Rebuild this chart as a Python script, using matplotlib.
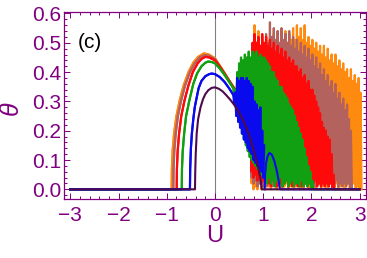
import numpy as np
import matplotlib
matplotlib.use("Agg")
import matplotlib.pyplot as plt
from matplotlib.ticker import MultipleLocator

plt.rcParams['font.family'] = ['Liberation Sans', 'DejaVu Sans']

# ---------------- data ----------------
# smooth parts: (U, theta)
purple_U = [-3.0, -0.415, -0.41, -0.40, -0.38, -0.35, -0.30, -0.25, -0.20, -0.14, -0.07, 0.0,
            0.08, 0.16, 0.24, 0.32, 0.40, 0.50, 0.60, 0.70, 0.80, 0.88, 0.94, 0.97, 3.0]
purple_T = [0.0, 0.0, 0.06, 0.12, 0.19, 0.24, 0.28, 0.307, 0.325, 0.338, 0.346, 0.348,
            0.343, 0.334, 0.32, 0.305, 0.288, 0.262, 0.23, 0.19, 0.135, 0.085, 0.04, 0.0, 0.0]

blue_U = [-3.0, -0.52, -0.515, -0.50, -0.48, -0.45, -0.42, -0.39, -0.34, -0.28, -0.20, -0.12,
          -0.07, 0.0, 0.1, 0.2, 0.3, 0.38]
blue_T = [0.0, 0.0, 0.07, 0.14, 0.19, 0.24, 0.28, 0.305, 0.345, 0.37, 0.386, 0.393,
          0.395, 0.393, 0.383, 0.366, 0.343, 0.322]
blue_arc_U = [1.03, 1.04, 1.06, 1.09, 1.13, 1.18, 1.23, 1.28, 1.32, 1.35, 3.0]
blue_arc_T = [0.0, 0.05, 0.09, 0.113, 0.124, 0.118, 0.097, 0.065, 0.03, 0.0, 0.0]

green_U = [-3.0, -0.69, -0.685, -0.67, -0.64, -0.60, -0.53, -0.45, -0.37, -0.28, -0.20, -0.14,
           -0.06, 0.0, 0.1, 0.2, 0.3, 0.38]
green_T = [0.0, 0.0, 0.07, 0.13, 0.19, 0.25, 0.305, 0.36, 0.396, 0.42, 0.432, 0.436,
           0.434, 0.43, 0.412, 0.39, 0.365, 0.345]

red_U = [-3.0, -0.795, -0.79, -0.775, -0.745, -0.70, -0.63, -0.55, -0.46, -0.36, -0.28, -0.20,
         -0.12, 0.0, 0.1, 0.2, 0.3, 0.4, 0.5, 0.6, 0.68]
red_T = [0.0, 0.0, 0.07, 0.13, 0.19, 0.25, 0.305, 0.355, 0.40, 0.43, 0.445, 0.452,
         0.45, 0.44, 0.418, 0.393, 0.368, 0.343, 0.32, 0.30, 0.285]

brown_U = [-3.0, -0.865, -0.86, -0.845, -0.815, -0.77, -0.70, -0.62, -0.52, -0.42, -0.32, -0.22,
           -0.12, 0.0, 0.1, 0.2, 0.3, 0.4, 0.5, 0.6, 0.68]
brown_T = [0.0, 0.0, 0.07, 0.13, 0.19, 0.25, 0.305, 0.355, 0.40, 0.43, 0.45, 0.458,
           0.455, 0.444, 0.42, 0.395, 0.369, 0.344, 0.32, 0.30, 0.285]

orange_U = [-3.0, -0.90, -0.895, -0.88, -0.85, -0.80, -0.73, -0.65, -0.55, -0.45, -0.35, -0.23,
            -0.13, 0.0, 0.1, 0.2, 0.3, 0.4, 0.5, 0.6, 0.68]
orange_T = [0.0, 0.0, 0.07, 0.13, 0.19, 0.25, 0.305, 0.355, 0.40, 0.432, 0.452, 0.464,
            0.46, 0.447, 0.422, 0.397, 0.37, 0.345, 0.32, 0.30, 0.285]

# oscillating parts: successive maxima / minima, every 0.04 in U
osc_step = 0.04
blue_osc_start = 0.40
blue_top = [0.33, 0.38, 0.37, 0.38, 0.38, 0.37, 0.38, 0.37, 0.36, 0.35, 0.30, 0.29, 0.27, 0.28, 0.20, 0.15]
blue_bot = [0.29, 0.25, 0.23, 0.21, 0.19, 0.17, 0.16, 0.14, 0.13, 0.12, 0.10, 0.09, 0.08, 0.07, 0.06, 0.04]

green_osc_start = 0.40
green_top = [0.34, 0.40, 0.43, 0.45, 0.44, 0.46, 0.45, 0.47, 0.45, 0.47,
             0.46, 0.47, 0.45, 0.46, 0.45, 0.45, 0.44, 0.43, 0.42, 0.40,
             0.40, 0.38, 0.37, 0.35, 0.35, 0.33, 0.32, 0.31, 0.29, 0.28,
             0.27, 0.25, 0.23, 0.21, 0.19, 0.17, 0.14, 0.11, 0.08, 0.06, 0.03]
green_bot = [0.30, 0.27, 0.24, 0.22, 0.19, 0.17, 0.15, 0.13, 0.11, 0.10,
             0.09, 0.08, 0.07, 0.06, 0.05, 0.04, 0.03, 0.02, 0.04, 0.02,
             0.03, 0.01, 0.03, 0.02, 0.04, 0.01, 0.02, 0.03, 0.01, 0.02,
             0.03, 0.01, 0.02, 0.02, 0.01, 0.03, 0.01, 0.02, 0.01, 0.02, 0.00]

red_osc_start = 0.72
red_top = [0.40, 0.50, 0.53, 0.50, 0.52, 0.49, 0.53, 0.50, 0.52, 0.49,
           0.51, 0.48, 0.50, 0.47, 0.49, 0.46, 0.48, 0.45, 0.47, 0.44,
           0.45, 0.43, 0.44, 0.42, 0.42, 0.40, 0.41, 0.38, 0.39, 0.36,
           0.37, 0.34, 0.34, 0.32, 0.30, 0.28, 0.26, 0.23, 0.21, 0.20,
           0.18, 0.17, 0.12, 0.05]
red_bot = [0.28, 0.06, 0.04, 0.05, 0.03, 0.04, 0.02, 0.03, 0.02, 0.04,
           0.02, 0.01, 0.03, 0.02, 0.01, 0.03, 0.02, 0.01, 0.02, 0.03,
           0.01, 0.02, 0.01, 0.03, 0.02, 0.01, 0.02, 0.01, 0.03, 0.02,
           0.01, 0.02, 0.01, 0.02, 0.03, 0.01, 0.02, 0.01, 0.02, 0.01,
           0.02, 0.01, 0.02, 0.00]

brown_osc_start = 0.72
brown_top = [0.35, 0.42, 0.46, 0.44, 0.48, 0.45, 0.49, 0.47, 0.53, 0.50,
             0.57, 0.52, 0.55, 0.51, 0.54, 0.50, 0.55, 0.51, 0.53, 0.50,
             0.54, 0.49, 0.52, 0.48, 0.51, 0.47, 0.50, 0.46, 0.49, 0.45,
             0.48, 0.44, 0.46, 0.42, 0.45, 0.41, 0.43, 0.39, 0.41, 0.37,
             0.39, 0.35, 0.37, 0.33, 0.36, 0.31, 0.33, 0.29, 0.31, 0.27,
             0.29, 0.24, 0.20]
brown_bot = [0.27, 0.04, 0.02, 0.03, 0.01, 0.02, 0.03, 0.01, 0.02, 0.01,
             0.03, 0.02, 0.01, 0.02, 0.03, 0.01, 0.02, 0.01, 0.02, 0.03,
             0.01, 0.02, 0.01, 0.03, 0.02, 0.01, 0.02, 0.01, 0.02, 0.03,
             0.01, 0.02, 0.01, 0.02, 0.01, 0.03, 0.02, 0.01, 0.02, 0.01,
             0.03, 0.01, 0.02, 0.01, 0.02, 0.03, 0.01, 0.02, 0.01, 0.02,
             0.01, 0.02, 0.00]

orange_osc_start = 0.72
orange_top = [0.35, 0.50, 0.56, 0.50, 0.54, 0.49, 0.52, 0.47, 0.51, 0.48,
              0.52, 0.49, 0.53, 0.50, 0.54, 0.49, 0.53, 0.50, 0.54, 0.50,
              0.53, 0.51, 0.55, 0.51, 0.56, 0.52, 0.55, 0.51, 0.56, 0.50,
              0.52, 0.49, 0.51, 0.48, 0.50, 0.47, 0.49, 0.46, 0.49, 0.45,
              0.48, 0.44, 0.46, 0.43, 0.46, 0.42, 0.44, 0.41, 0.43, 0.40,
              0.41, 0.38, 0.41, 0.37, 0.39, 0.36, 0.38, 0.33]
orange_bot = [0.27, 0.02, 0.00, 0.01, 0.00, 0.02, 0.00, 0.01, 0.00, 0.02,
              0.01, 0.00, 0.02, 0.01, 0.00, 0.02, 0.01, 0.00, 0.01, 0.02,
              0.00, 0.01, 0.02, 0.00, 0.01, 0.02, 0.00, 0.01, 0.00, 0.02,
              0.01, 0.00, 0.02, 0.01, 0.00, 0.01, 0.02, 0.00, 0.01, 0.02,
              0.00, 0.01, 0.02, 0.00, 0.01, 0.02, 0.00, 0.01, 0.02, 0.00,
              0.01, 0.02, 0.00, 0.01, 0.02, 0.00, 0.01, 0.00]

x_ticks = [-3, -2, -1, 0, 1, 2, 3]
y_ticks = [0.0, 0.1, 0.2, 0.3, 0.4, 0.5, 0.6]

# ---------------- styling ----------------
C_FRAME = '#800080'
C_PURPLE = '#4d0a4d'
C_BLUE = '#0a0aee'
C_GREEN = '#11a011'
C_RED = '#ff0a0a'
C_BROWN = '#b4625e'
C_ORANGE = '#ff8a10'


def osc(x0, step, tops, bots):
    xs, ys = [], []
    for i, (t, b) in enumerate(zip(tops, bots)):
        x = x0 + i * step
        xs += [x, x + step / 2]
        ys += [b, t]
    return xs, ys


fig = plt.figure(figsize=(3.67, 2.58), dpi=100)
ax = fig.add_axes([64 / 367, 1 - 199 / 258, 302 / 367, 187 / 258])

lw_s = 1.5
lw_o = 1.6

# orange (bottom-most)
xo, yo = osc(orange_osc_start, osc_step, orange_top, orange_bot)
ax.plot(orange_U + xo + [3.04], orange_T + yo + [0.0], color=C_ORANGE, lw=lw_o, zorder=2)
ax.plot(orange_U, orange_T, color=C_ORANGE, lw=lw_s, zorder=2)

# brown
xo, yo = osc(brown_osc_start, osc_step, brown_top, brown_bot)
ax.plot(brown_U + xo + [2.84, 3.0], brown_T + yo + [0.0, 0.0], color=C_BROWN, lw=lw_o, zorder=3)
ax.plot(brown_U, brown_T, color=C_BROWN, lw=lw_s, zorder=3)

# red
xo, yo = osc(red_osc_start, osc_step, red_top, red_bot)
ax.plot(red_U + xo + [2.48, 3.0], red_T + yo + [0.0, 0.0], color=C_RED, lw=lw_o, zorder=4)
ax.plot(red_U, red_T, color=C_RED, lw=lw_s, zorder=4)

# green
xo, yo = osc(green_osc_start, osc_step, green_top, green_bot)
ax.plot(green_U + xo + [2.04, 3.0], green_T + yo + [0.0, 0.0], color=C_GREEN, lw=lw_o, zorder=5)
ax.plot(green_U, green_T, color=C_GREEN, lw=lw_s, zorder=5)

# blue
xo, yo = osc(blue_osc_start, osc_step, blue_top, blue_bot)
ax.plot(blue_U + xo, blue_T + yo, color=C_BLUE, lw=lw_o, zorder=6)
ax.plot(blue_U, blue_T, color=C_BLUE, lw=lw_s, zorder=6)
ax.plot(blue_arc_U, blue_arc_T, color=C_BLUE, lw=lw_s, zorder=6)

# purple (top-most)
ax.plot(purple_U, purple_T, color=C_PURPLE, lw=lw_s, zorder=7)

# vertical axis line at U = 0
ax.axvline(0, color='#808080', lw=0.8, zorder=1)

ax.set_xlim(-3.133, 3.133)
ax.set_ylim(-0.033, 0.605)

ax.set_xticks(x_ticks)
ax.set_xticklabels(['\u22123', '\u22122', '\u22121', '0', '1', '2', '3'])
ax.set_yticks(y_ticks)
ax.set_yticklabels([f'{v:.1f}' for v in y_ticks])
ax.xaxis.set_minor_locator(MultipleLocator(0.2))
ax.yaxis.set_minor_locator(MultipleLocator(0.02))

for s in ax.spines.values():
    s.set_color(C_FRAME)
    s.set_linewidth(0.9)

ax.tick_params(which='both', direction='in', top=True, right=True, color=C_FRAME, width=0.7)
ax.tick_params(which='major', length=4)
ax.tick_params(which='minor', length=2)
ax.tick_params(axis='both', which='major', labelsize=15, labelcolor=C_FRAME)
ax.tick_params(axis='x', which='major', pad=5)
ax.tick_params(axis='y', which='major', pad=2)

ax.set_xlabel('U', fontsize=17, color=C_FRAME)
ax.xaxis.label.set_va('center')
ax.xaxis.set_label_coords(0.5, (199 - 236) / 187)
ax.set_ylabel('\u03b8', fontsize=18, color=C_FRAME, style='italic')
ax.yaxis.label.set_va('center')
ax.yaxis.set_label_coords((11 - 64) / 302, (199 - 108) / 187)

ax.text(-2.84, 0.50, '(c)', fontsize=15, color='black', ha='left', va='center', zorder=10)

fig.savefig('out.png', dpi=100)
